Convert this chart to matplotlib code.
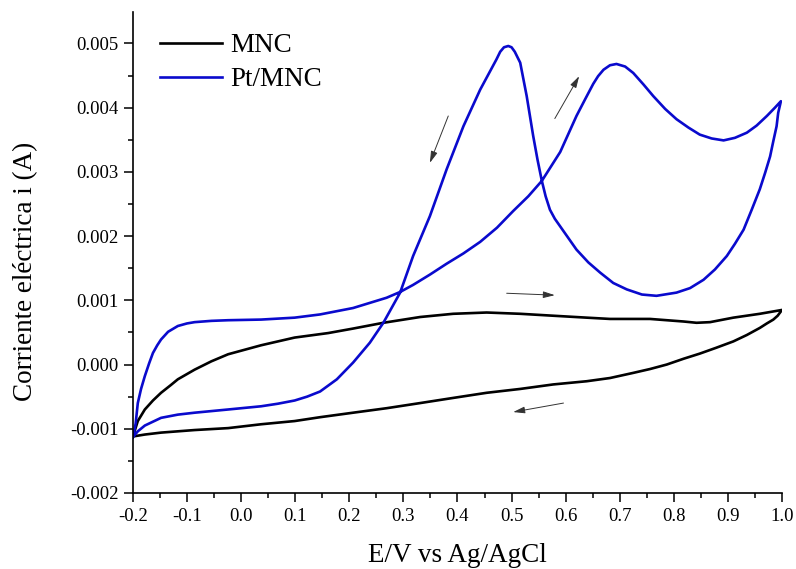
import numpy as np
import matplotlib
matplotlib.use('Agg')
import matplotlib.pyplot as plt
from matplotlib.ticker import MultipleLocator, FormatStrFormatter

plt.rcParams['font.family'] = ['Liberation Serif', 'DejaVu Serif']
plt.rcParams['axes.unicode_minus'] = False

# MNC: forward (anodic) and reverse (cathodic) scans, E in V, i in A
mnc_fwd_E = [-0.2, -0.191, -0.178, -0.163, -0.148, -0.13, -0.117, -0.086, -0.055, -0.024,
             0.037, 0.099, 0.161, 0.207, 0.263, 0.331, 0.392, 0.454, 0.516, 0.577,
             0.639, 0.682, 0.756, 0.818, 0.842, 0.867, 0.91, 0.959, 1.0]
mnc_fwd_i = [-0.00112, -0.00088, -0.0007, -0.00056, -0.00044, -0.00032, -0.00023, -0.00008,
             0.00005, 0.00016, 0.0003, 0.00042, 0.00049, 0.00056, 0.00065, 0.00074,
             0.00079, 0.00081, 0.00079, 0.00076, 0.00073, 0.00071, 0.00071, 0.00067,
             0.00065, 0.00066, 0.00073, 0.00079, 0.00085]
mnc_rev_E = [1.0, 0.992, 0.984, 0.972, 0.959, 0.935, 0.91, 0.878, 0.848, 0.818, 0.787,
             0.756, 0.725, 0.682, 0.639, 0.577, 0.516, 0.454, 0.392, 0.331, 0.269,
             0.207, 0.146, 0.099, 0.037, -0.024, -0.086, -0.148, -0.178, -0.2]
mnc_rev_i = [0.00085, 0.00076, 0.0007, 0.00064, 0.00057, 0.00046, 0.00036, 0.00026,
             0.00017, 0.00009, 0.0, -0.00007, -0.00013, -0.00021, -0.00026, -0.00031,
             -0.00038, -0.00044, -0.00052, -0.0006, -0.00068, -0.00075, -0.00082,
             -0.00088, -0.00093, -0.00099, -0.00102, -0.00106, -0.00109, -0.00112]

# Pt/MNC
pt_fwd_E = [-0.2, -0.195, -0.191, -0.185, -0.178, -0.17, -0.163, -0.155, -0.148, -0.135,
            -0.117, -0.1, -0.086, -0.055, -0.024, 0.037, 0.099, 0.146, 0.207, 0.269,
            0.294, 0.318, 0.349, 0.38, 0.411, 0.442, 0.473, 0.503, 0.531, 0.556,
            0.59, 0.605, 0.62, 0.636, 0.651, 0.66, 0.67, 0.682, 0.694, 0.71,
            0.725, 0.744, 0.762, 0.784, 0.805, 0.827, 0.848, 0.87, 0.892, 0.913,
            0.935, 0.953, 0.972, 0.987, 0.998]
pt_fwd_i = [-0.00113, -0.00092, -0.0006, -0.00038, -0.00018, 0.00002, 0.00018, 0.0003,
            0.00039, 0.00051, 0.0006, 0.00064, 0.00066, 0.00068, 0.00069, 0.0007,
            0.00073, 0.00078, 0.00088, 0.00104, 0.00113, 0.00124, 0.0014, 0.00157,
            0.00173, 0.00191, 0.00213, 0.00239, 0.00262, 0.00286, 0.00331, 0.00359,
            0.00387, 0.00413, 0.00437, 0.00449, 0.00459, 0.00466, 0.00468, 0.00464,
            0.00454, 0.00436, 0.00418, 0.00398, 0.00382, 0.00369, 0.00358, 0.00352,
            0.00349, 0.00353, 0.00361, 0.00372, 0.00387, 0.004, 0.0041]
pt_rev_E = [0.998, 0.993, 0.99, 0.984, 0.978, 0.969, 0.959, 0.944, 0.929, 0.913,
            0.898, 0.876, 0.855, 0.83, 0.805, 0.768, 0.741, 0.713, 0.688, 0.664,
            0.642, 0.62, 0.605, 0.59, 0.58, 0.571, 0.563, 0.556, 0.548, 0.54,
            0.534, 0.528, 0.522, 0.516, 0.506, 0.5, 0.494, 0.486, 0.479, 0.472,
            0.442, 0.411, 0.38, 0.349, 0.318, 0.294, 0.263, 0.238, 0.207, 0.177,
            0.146, 0.122, 0.099, 0.068, 0.037, -0.024, -0.086, -0.117, -0.148, -0.178,
            -0.191, -0.2]
pt_rev_i = [0.0041, 0.00392, 0.00371, 0.00348, 0.00324, 0.00299, 0.00273, 0.00241,
            0.0021, 0.00188, 0.00169, 0.00148, 0.00132, 0.00119, 0.00112, 0.00107,
            0.00109, 0.00117, 0.00127, 0.00143, 0.00159, 0.00179, 0.00197, 0.00215,
            0.00227, 0.00241, 0.00262, 0.00286, 0.00319, 0.00356, 0.00387, 0.00418,
            0.00444, 0.0047, 0.00487, 0.00494, 0.00496, 0.00494, 0.00487, 0.00475,
            0.00428, 0.00371, 0.00304, 0.00231, 0.00169, 0.00112, 0.00065, 0.00034,
            0.00003, -0.00023, -0.00042, -0.0005, -0.00056, -0.00061, -0.00065,
            -0.0007, -0.00075, -0.00078, -0.00083, -0.00095, -0.00104, -0.00113]

fig = plt.figure(figsize=(7.96, 5.69), dpi=100)
ax = fig.add_axes([0.167, 0.1336, 0.8154, 0.8454])

ax.plot(mnc_fwd_E + mnc_rev_E, mnc_fwd_i + mnc_rev_i, color='black', lw=1.9,
        label='MNC', solid_joinstyle='round')
ax.plot(pt_fwd_E + pt_rev_E, pt_fwd_i + pt_rev_i, color='#0A0ACD', lw=1.9,
        label='Pt/MNC', solid_joinstyle='round')

# scan direction arrows
arr = dict(arrowstyle='-|>,head_length=0.7,head_width=0.2', color='#333333', lw=0.7,
           shrinkA=0, shrinkB=0)
ax.annotate('', xy=(0.349, 0.00314), xytext=(0.383, 0.00387), arrowprops=arr)
ax.annotate('', xy=(0.625, 0.00449), xytext=(0.58, 0.00383), arrowprops=arr)
ax.annotate('', xy=(0.58, 0.00108), xytext=(0.491, 0.00111), arrowprops=arr)
ax.annotate('', xy=(0.503, -0.00074), xytext=(0.596, -0.0006), arrowprops=arr)

ax.set_xlim(-0.2, 1.0)
ax.set_ylim(-0.002, 0.00549)
ax.spines['top'].set_visible(False)
ax.spines['right'].set_visible(False)
for s in ('left', 'bottom'):
    ax.spines[s].set_linewidth(1.2)
ax.xaxis.set_major_locator(MultipleLocator(0.1))
ax.xaxis.set_minor_locator(MultipleLocator(0.05))
ax.yaxis.set_major_locator(MultipleLocator(0.001))
ax.yaxis.set_minor_locator(MultipleLocator(0.0005))
ax.xaxis.set_major_formatter(FormatStrFormatter('%.1f'))
ax.yaxis.set_major_formatter(FormatStrFormatter('%.3f'))
ax.tick_params(which='major', direction='out', length=6.5, width=1.1, labelsize=13.5, pad=4)
ax.tick_params(which='minor', direction='out', length=3.5, width=1.1)

ax.set_xlabel('E/V vs Ag/AgCl', fontsize=19.5, labelpad=13)
ax.set_ylabel('Corriente eléctrica i (A)', fontsize=19.5, labelpad=23)
ax.yaxis.label.set_y(0.46)

ax.legend(loc='upper left', bbox_to_anchor=(0.025, 0.978), frameon=False, fontsize=19.5,
          handlelength=2.3, handletextpad=0.3, labelspacing=0.33, borderaxespad=0)

fig.savefig('out.png', dpi=100)
